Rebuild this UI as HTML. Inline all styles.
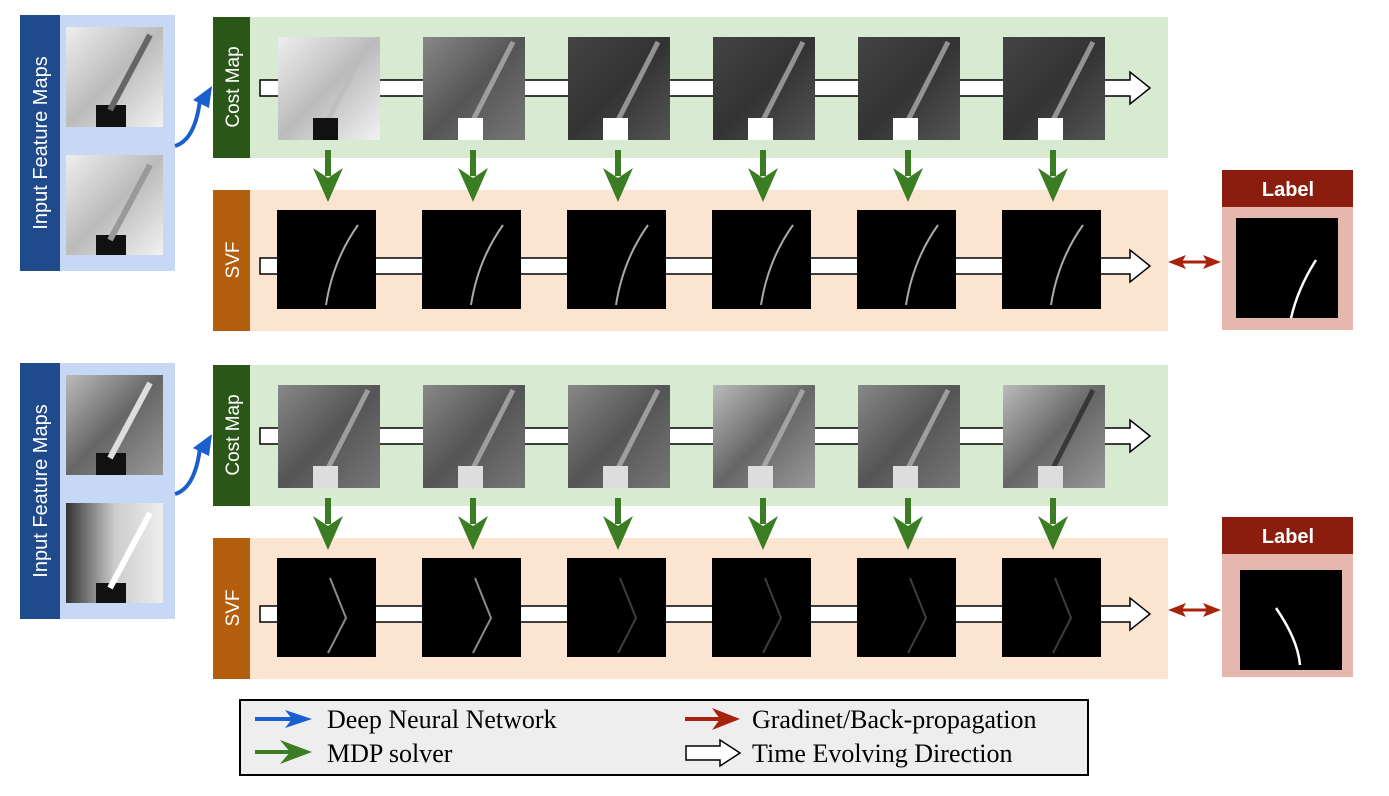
<!DOCTYPE html>
<html><head><meta charset="utf-8"><style>
html,body{margin:0;padding:0;background:#fff;width:1389px;height:796px;overflow:hidden}
svg{display:block}
text{font-family:"Liberation Sans",sans-serif}
text.serif{font-family:"Liberation Serif",serif}
</style></head><body>
<svg id="s" width="1389" height="796" viewBox="0 0 1389 796" xmlns="http://www.w3.org/2000/svg">
<defs>
<linearGradient id="g1" x1="0" y1="0" x2="1" y2="1"><stop offset="0" stop-color="#eee"/><stop offset="0.5" stop-color="#bbb"/><stop offset="1" stop-color="#f2f2f2"/></linearGradient>
<linearGradient id="g2" x1="0" y1="0" x2="1" y2="1"><stop offset="0" stop-color="#888"/><stop offset="0.5" stop-color="#555"/><stop offset="1" stop-color="#777"/></linearGradient>
<linearGradient id="g3" x1="0" y1="0" x2="1" y2="1"><stop offset="0" stop-color="#444"/><stop offset="0.5" stop-color="#333"/><stop offset="1" stop-color="#555"/></linearGradient>
<linearGradient id="g4" x1="0" y1="0" x2="1" y2="1"><stop offset="0" stop-color="#bbb"/><stop offset="0.5" stop-color="#666"/><stop offset="1" stop-color="#999"/></linearGradient>
<linearGradient id="g5" x1="0" y1="0" x2="1" y2="0"><stop offset="0" stop-color="#333"/><stop offset="0.5" stop-color="#ccc"/><stop offset="1" stop-color="#eee"/></linearGradient>
</defs>
<g id="root"></g>
</svg>
<script>
const NS="http://www.w3.org/2000/svg";
const root=document.getElementById('root');
function mk(tag,attrs,parent){const e=document.createElementNS(NS,tag);for(const k in attrs)e.setAttribute(k,attrs[k]);(parent||root).appendChild(e);return e;}
const colsX=[278,423,568,713,858,1003];
function block(oy,bi){
  const g=mk('g',{});
  
  
  mk('rect',{x:20,y:15+oy,width:40,height:256,fill:'#1f4a8c'},g);
  mk('rect',{x:60,y:15+oy,width:115,height:256,fill:'#c6d8f3'},g);
  const t=mk('text',{x:0,y:0,fill:'#fff','font-size':20,'text-anchor':'middle',transform:`translate(47,${143+oy}) rotate(-90)`},g);
  t.textContent='Input Feature Maps';
  
  
  mk('rect',{x:66,y:27+oy,width:97,height:100,fill:bi?'url(#g4)':'url(#g1)'},g);
  mk('rect',{x:66,y:155+oy,width:97,height:100,fill:bi?'url(#g5)':'url(#g1)'},g);
  mk('rect',{x:96,y:105+oy,width:30,height:22,fill:'#111'},g);
  mk('rect',{x:96,y:235+oy,width:30,height:20,fill:'#111'},g);
  mk('line',{x1:110,y1:110+oy,x2:150,y2:35+oy,stroke:bi?'#ddd':'#666','stroke-width':6},g);
  mk('line',{x1:110,y1:240+oy,x2:150,y2:165+oy,stroke:bi?'#fff':'#999','stroke-width':6},g);
  mk('path',{d:`M175 ${146+oy} Q195 ${140+oy} 200 ${100+oy}`,fill:'none',stroke:'#1a5fd0','stroke-width':4},g);
  mk('polygon',{points:`${193},${100+oy} ${212},${86+oy} ${209},${108+oy}`,fill:'#1a5fd0'},g);
  mk('rect',{x:213,y:17+oy,width:37,height:141,fill:'#2a5718'},g);
  mk('rect',{x:250,y:17+oy,width:918,height:141,fill:'#d9ead3'},g);
  const t2=mk('text',{fill:'#fff','font-size':19,'text-anchor':'middle',transform:`translate(239,${87+oy}) rotate(-90)`},g);t2.textContent='Cost Map';
  
  const wa=(y)=>{mk('polygon',{points:`260,${y-8} 1130,${y-8} 1130,${y-16} 1150,${y} 1130,${y+16} 1130,${y+8} 260,${y+8}`,fill:'#fff',stroke:'#000','stroke-width':1.5},g);};
  wa(88+oy);
  colsX.forEach((x,i)=>{
    const f=bi?(i==3?'url(#g4)':i==5?'url(#g4)':'url(#g2)'):(i==0?'url(#g1)':i==1?'url(#g2)':'url(#g3)');
    const r=mk('rect',{x:x,y:37+oy,width:102,height:103,fill:f},g);
    
    mk('line',{x1:x+45,y1:130+oy,x2:x+90,y2:42+oy,stroke:bi&&i==5?'#222':'#bbb','stroke-width':5,opacity:0.7},g);
    mk('rect',{x:x+35,y:118+oy,width:25,height:22,fill:bi?'#ddd':(i==0?'#111':'#fff')},g);
  });
  mk('rect',{x:213,y:190+oy,width:37,height:141,fill:'#b35e0c'},g);
  mk('rect',{x:250,y:190+oy,width:918,height:141,fill:'#fbe5d0'},g);
  const t3=mk('text',{fill:'#fff','font-size':19,'text-anchor':'middle',transform:`translate(239,${260+oy}) rotate(-90)`},g);t3.textContent='SVF';
  
  wa(266+oy);
  colsX.forEach((x,i)=>{
    const r=mk('rect',{x:x-1,y:210+oy,width:99,height:99,fill:'#000'},g);
    
    if(bi) mk('path',{d:`M${x+50} ${305+oy} L${x+68} ${270+oy} L${x+52} ${230+oy}`,fill:'none',stroke:'#999','stroke-width':2,opacity:i<2?0.9:0.4},g);
    else mk('path',{d:`M${x+48} ${305+oy} Q${x+55} ${260+oy} ${x+80} ${225+oy}`,fill:'none',stroke:'#aaa','stroke-width':2},g);
  });
  // green arrows on top
  colsX.forEach((x,i)=>{
    const cx=x+50;
    const a=mk('g',{},g);
    
    mk('rect',{x:cx-3,y:150+oy,width:6,height:26,fill:'#3a7d22'},a);
    mk('polygon',{points:`${cx-15},${168+oy} ${cx},${178+oy} ${cx+15},${168+oy} ${cx},${202+oy}`,fill:'#3a7d22'},a);
  });
  const ay=262+oy;
  mk('line',{x1:1180,y1:ay,x2:1210,y2:ay,stroke:'#a8230e','stroke-width':3},g);
  mk('polygon',{points:`1168,${ay} 1186,${ay-7} 1182,${ay} 1186,${ay+7}`,fill:'#a8230e'},g);
  mk('polygon',{points:`1221,${ay} 1203,${ay-7} 1207,${ay} 1203,${ay+7}`,fill:'#a8230e'},g);
  const ly=bi?517:170;
  mk('rect',{x:1222,y:ly,width:131,height:160,fill:'#e6b7ae'},g);
  mk('rect',{x:1222,y:ly,width:131,height:37,fill:'#8a1d0d'},g);
  const t4=mk('text',{x:1288,y:ly+26,fill:'#fff','font-size':20,'text-anchor':'middle','font-weight':'bold'},g);t4.textContent='Label';
  
  const ix=bi?1240:1236, iy=bi?570:218;
  mk('rect',{x:ix,y:iy,width:102,height:100,fill:'#000'},g);
  if(bi) mk('path',{d:`M${ix+36} ${iy+38} Q${ix+58} ${iy+70} ${ix+60} ${iy+95}`,fill:'none',stroke:'#fff','stroke-width':2.5},g);
  else mk('path',{d:`M${ix+55} ${iy+100} Q${ix+62} ${iy+70} ${ix+80} ${iy+42}`,fill:'none',stroke:'#fff','stroke-width':2.5},g);
}
block(0,0);
block(348,1);
const lg=mk('g',{});

mk('rect',{x:240,y:700,width:848,height:75,fill:'#eeeeee',stroke:'#000','stroke-width':2},lg);
function ltxt(x,y,s,n){const t=mk('text',{x:x,y:y,'font-size':26,fill:'#000','class':'serif'},lg);t.textContent=s;}
mk('line',{x1:255,y1:719,x2:295,y2:719,stroke:'#1a5fd0','stroke-width':4},lg);
mk('polygon',{points:'285,710 312,719 285,728 292,719',fill:'#1a5fd0'},lg);
ltxt(327,728,'Deep Neural Network','legend-entry-dnn');
mk('line',{x1:255,y1:752,x2:295,y2:752,stroke:'#3a7d22','stroke-width':4},lg);
mk('polygon',{points:'280,740 312,752 280,764 290,752',fill:'#3a7d22'},lg);
ltxt(327,762,'MDP solver','legend-entry-mdp');
mk('line',{x1:685,y1:719,x2:725,y2:719,stroke:'#a8230e','stroke-width':4},lg);
mk('polygon',{points:'712,708 740,719 712,730 720,719',fill:'#a8230e'},lg);
ltxt(752,728,'Gradinet/Back-propagation','legend-entry-gradient');
mk('polygon',{points:'686,746 720,746 720,740 740,753 720,766 720,760 686,760',fill:'#fff',stroke:'#000','stroke-width':1.5},lg);
ltxt(752,762,'Time Evolving Direction','legend-entry-time');
</script>
</body></html>
